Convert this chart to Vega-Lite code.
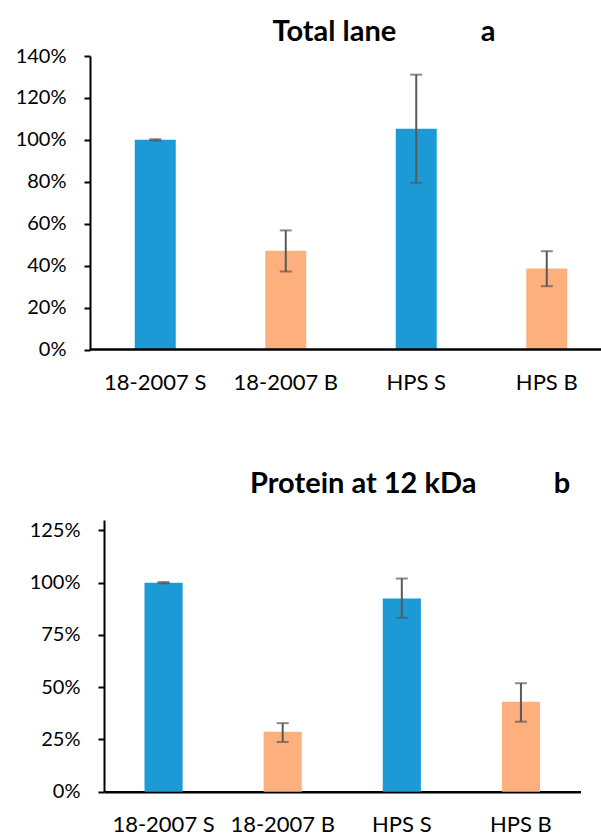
{
  "$schema": "https://vega.github.io/schema/vega-lite/v6.json",
  "padding": {"left": 15, "top": 17, "right": 0, "bottom": 0},
  "background": "white",
  "spacing": 77,
  "config": {
    "view": {"stroke": null},
    "font": "Lato",
    "axisX": {"labelAngle": 0, "ticks": false, "title": null, "labelFont": "Lato", "labelFontSize": 22, "labelColor": "#000", "labelPadding": 22.5, "domainColor": "#000", "domainWidth": 2.5},
    "axisY": {"grid": false, "title": null, "labelFont": "Lato", "labelFontSize": 20, "labelColor": "#000", "tickColor": "#000", "tickWidth": 2, "tickSize": 6, "labelPadding": 18, "domainColor": "#000", "domainWidth": 2}
  },
  "vconcat": [
    {
      "width": 512,
      "height": 293.5,
      "title": {"text": "Total lane\u00a0\u00a0\u00a0\u00a0\u00a0\u00a0\u00a0\u00a0\u00a0\u00a0\u00a0\u00a0a", "anchor": "start", "frame": "group", "dx": 182.5, "fontSize": 29, "fontWeight": "bold", "font": "Lato", "offset": -0.5, "color": "#000"},
      "data": {"values": [
        {"sample": "18-2007 S", "type": "S", "value": 1.0, "lo": 0.997, "hi": 1.003},
        {"sample": "18-2007 B", "type": "B", "value": 0.471, "lo": 0.372, "hi": 0.568},
        {"sample": "HPS S", "type": "S", "value": 1.053, "lo": 0.795, "hi": 1.311},
        {"sample": "HPS B", "type": "B", "value": 0.386, "lo": 0.302, "hi": 0.469}
      ]},
      "layer": [
        {
          "mark": {"type": "bar"},
          "encoding": {
            "x": {"field": "sample", "type": "nominal", "sort": ["18-2007 S", "18-2007 B", "HPS S", "HPS B"], "scale": {"range": [0, 522], "paddingInner": 0.686, "paddingOuter": 0.343}, "axis": {"domain": false}},
            "y": {"field": "value", "type": "quantitative", "scale": {"domain": [0, 1.4]}, "axis": {"values": [0, 0.2, 0.4, 0.6, 0.8, 1.0, 1.2, 1.4], "format": ".0%"}},
            "color": {"field": "type", "type": "nominal", "scale": {"domain": ["S", "B"], "range": ["#1B9AD6", "#FDB07E"]}, "legend": null}
          }
        },
        {
          "mark": {"type": "rule", "color": "#595959", "strokeWidth": 2},
          "encoding": {
            "x": {"field": "sample", "type": "nominal", "sort": ["18-2007 S", "18-2007 B", "HPS S", "HPS B"]},
            "y": {"field": "lo", "type": "quantitative"},
            "y2": {"field": "hi"}
          }
        },
        {
          "mark": {"type": "tick", "color": "#595959", "thickness": 2, "size": 12},
          "encoding": {
            "x": {"field": "sample", "type": "nominal", "sort": ["18-2007 S", "18-2007 B", "HPS S", "HPS B"]},
            "y": {"field": "lo", "type": "quantitative"}
          }
        },
        {
          "mark": {"type": "tick", "color": "#595959", "thickness": 2, "size": 12},
          "encoding": {
            "x": {"field": "sample", "type": "nominal", "sort": ["18-2007 S", "18-2007 B", "HPS S", "HPS B"]},
            "y": {"field": "hi", "type": "quantitative"}
          }
        },
        {
          "data": {"values": [{}]},
          "mark": {"type": "rule", "color": "#000", "strokeWidth": 2.5},
          "encoding": {"y": {"datum": 0}}
        }
      ]
    },
    {
      "width": 491,
      "height": 271.7,
      "title": {"text": "Protein at 12 kDa\u00a0\u00a0\u00a0\u00a0\u00a0\u00a0\u00a0\u00a0\u00a0\u00a0\u00a0b", "anchor": "start", "frame": "group", "dx": 160, "fontSize": 29, "fontWeight": "bold", "font": "Lato", "offset": 21, "color": "#000"},
      "data": {"values": [
        {"sample": "18-2007 S", "type": "S", "value": 1.0, "lo": 0.997, "hi": 1.003},
        {"sample": "18-2007 B", "type": "B", "value": 0.287, "lo": 0.238, "hi": 0.328},
        {"sample": "HPS S", "type": "S", "value": 0.925, "lo": 0.832, "hi": 1.02},
        {"sample": "HPS B", "type": "B", "value": 0.43, "lo": 0.335, "hi": 0.519}
      ]},
      "layer": [
        {
          "mark": {"type": "bar"},
          "encoding": {
            "x": {"field": "sample", "type": "nominal", "sort": ["18-2007 S", "18-2007 B", "HPS S", "HPS B"], "scale": {"range": [14, 490.5], "paddingInner": 0.68, "paddingOuter": 0.34}},
            "y": {"field": "value", "type": "quantitative", "scale": {"domain": [0, 1.25]}, "axis": {"values": [0, 0.25, 0.5, 0.75, 1.0, 1.25], "format": ".0%", "offset": -14}},
            "color": {"field": "type", "type": "nominal", "scale": {"domain": ["S", "B"], "range": ["#1B9AD6", "#FDB07E"]}, "legend": null}
          }
        },
        {
          "mark": {"type": "rule", "color": "#595959", "strokeWidth": 2},
          "encoding": {
            "x": {"field": "sample", "type": "nominal", "sort": ["18-2007 S", "18-2007 B", "HPS S", "HPS B"]},
            "y": {"field": "lo", "type": "quantitative"},
            "y2": {"field": "hi"}
          }
        },
        {
          "mark": {"type": "tick", "color": "#595959", "thickness": 2, "size": 12},
          "encoding": {
            "x": {"field": "sample", "type": "nominal", "sort": ["18-2007 S", "18-2007 B", "HPS S", "HPS B"]},
            "y": {"field": "lo", "type": "quantitative"}
          }
        },
        {
          "mark": {"type": "tick", "color": "#595959", "thickness": 2, "size": 12},
          "encoding": {
            "x": {"field": "sample", "type": "nominal", "sort": ["18-2007 S", "18-2007 B", "HPS S", "HPS B"]},
            "y": {"field": "hi", "type": "quantitative"}
          }
        }
      ]
    }
  ]
}
